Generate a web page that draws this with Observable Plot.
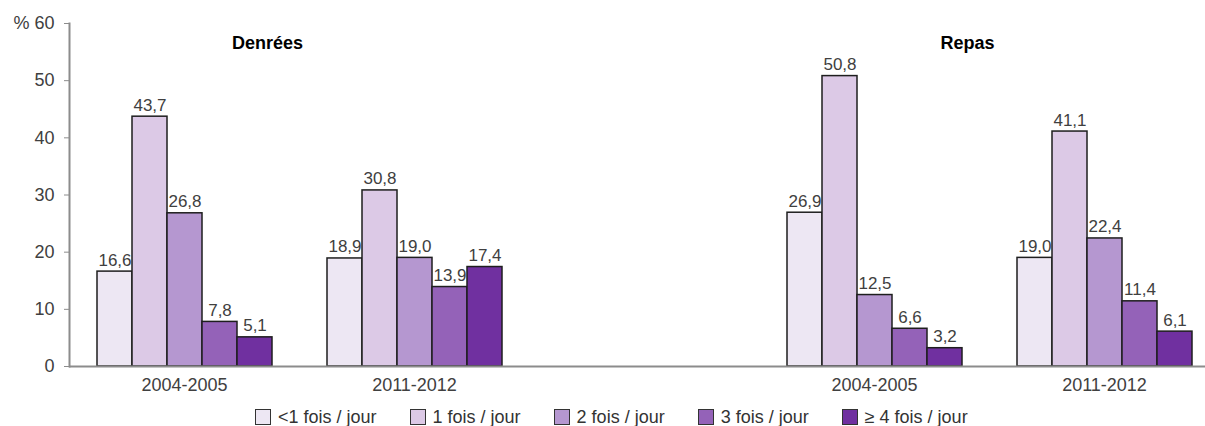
<!DOCTYPE html>
<html>
<head>
<meta charset="utf-8">
<script src="https://cdn.jsdelivr.net/npm/d3@7"></script>
<script src="https://cdn.jsdelivr.net/npm/@observablehq/plot@0.6"></script>
<style>
  html, body { margin: 0; padding: 0; background: #fff; width: 1205px; height: 426px; overflow: hidden; }
  body { font-family: "Liberation Sans", Arial, sans-serif; }
  #legend { display: flex; align-items: center; margin-left: 255px; margin-top: 8px; height: 18px; gap: 33px; font-size: 18px; color: #333; }
  .item { display: flex; align-items: center; gap: 7px; white-space: nowrap; }
  .sw { width: 14px; height: 14px; border: 1px solid #333; }
</style>
</head>
<body>
<div id="chart"></div>
<div id="legend"></div>
<script>
const categories = ["<1 fois / jour", "1 fois / jour", "2 fois / jour", "3 fois / jour", "≥ 4 fois / jour"];
const colors = ["#EDE7F3", "#DCC9E6", "#B597D0", "#9462B8", "#7030A0"];
const panels = ["Denrées", "Repas"];
const periods = ["2004-2005", "2011-2012"];
const denrees2004 = [16.6, 43.7, 26.8, 7.8, 5.1];
const denrees2011 = [18.9, 30.8, 19.0, 13.9, 17.4];
const repas2004 = [26.9, 50.8, 12.5, 6.6, 3.2];
const repas2011 = [19.0, 41.1, 22.4, 11.4, 6.1];
const yTicks = [0, 10, 20, 30, 40, 50, 60];

const groupKeys = ["Denrées 2004-2005", "Denrées 2011-2012", "gap", "Repas 2004-2005", "Repas 2011-2012"];
const groupLabel = {"Denrées 2004-2005": "2004-2005", "Denrées 2011-2012": "2011-2012", "gap": "", "Repas 2004-2005": "2004-2005", "Repas 2011-2012": "2011-2012"};
const series = [
  ["Denrées 2004-2005", denrees2004],
  ["Denrées 2011-2012", denrees2011],
  ["Repas 2004-2005", repas2004],
  ["Repas 2011-2012", repas2011]
];
const data = series.flatMap(([g, vals]) => vals.map((v, i) => ({group: g, cat: categories[i], value: v})));
const fmt = v => v.toFixed(1).replace(".", ",");

const titleOpts = {fx: "group", text: "text", frameAnchor: "top", lineAnchor: "middle", dy: 20, fontSize: 18, fontWeight: "bold", fill: "#000"};

const chart = Plot.plot({
  width: 1205,
  height: 400,
  marginTop: 23,
  marginBottom: 34,
  marginLeft: 68,
  marginRight: 0,
  style: {fontFamily: "'Liberation Sans', Arial, sans-serif", color: "#404040", background: "#fff"},
  fx: {domain: groupKeys, range: [68, 1220.5], paddingInner: 0, paddingOuter: 0, axis: null},
  x: {domain: categories, paddingInner: 0, paddingOuter: 0.737, axis: null},
  y: {domain: [0, 60], axis: null},
  color: {domain: categories, range: colors},
  marks: [
    Plot.barY(data, {fx: "group", x: "cat", y: "value", fill: "cat", stroke: "#1e1e1e", strokeWidth: 1.5}),
    Plot.ruleY(groupKeys, {fx: d => d, y: () => 0, stroke: "#8c8c8c", strokeWidth: 2}),
    Plot.frame({anchor: "left", facetAnchor: "left", stroke: "#8c8c8c", strokeWidth: 2}),
    Plot.axisY({ticks: yTicks, tickSize: 5, tickPadding: 10, stroke: "#8c8c8c", fill: "#404040", fontSize: 18, label: null,
      tickFormat: d => d === 60 ? "% 60" : String(d)}),
    Plot.axisFx({anchor: "bottom", tickSize: 0, tickPadding: 12, fontSize: 18, fill: "#404040", label: null,
      tickFormat: k => groupLabel[k]}),
    Plot.text(data, {fx: "group", x: "cat", y: "value", text: d => fmt(d.value), dy: -6, lineAnchor: "bottom", fontSize: 17, fill: "#404040"}),
    Plot.text([{group: "Denrées 2004-2005", text: panels[0]}], {...titleOpts, dx: 83}),
    Plot.text([{group: "Repas 2004-2005", text: panels[1]}], {...titleOpts, dx: 93})
  ]
});
document.getElementById("chart").appendChild(chart);

const legend = document.getElementById("legend");
categories.forEach((c, i) => {
  const item = document.createElement("div");
  item.className = "item";
  const sw = document.createElement("div");
  sw.className = "sw";
  sw.style.background = colors[i];
  const t = document.createElement("span");
  t.textContent = c;
  item.appendChild(sw);
  item.appendChild(t);
  legend.appendChild(item);
});
</script>
</body>
</html>
